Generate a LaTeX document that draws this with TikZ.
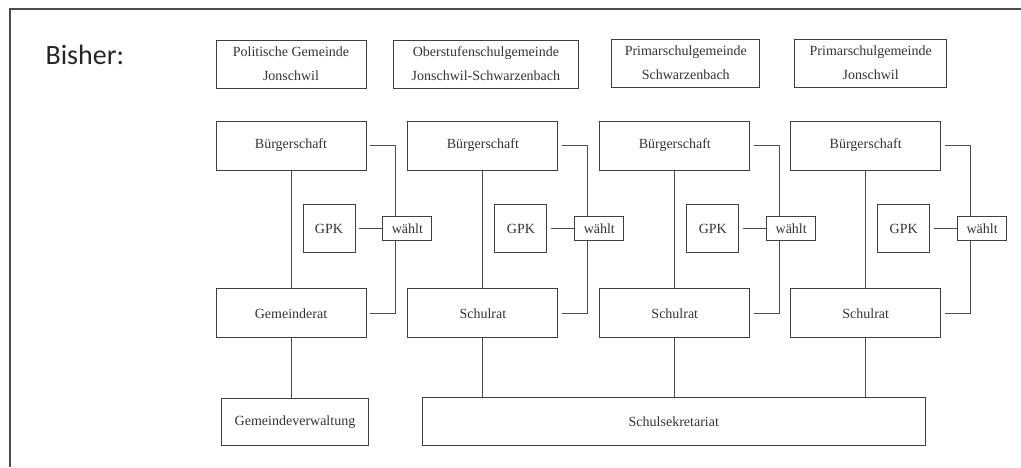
\documentclass[tikz,border=0pt]{standalone}
\usepackage{fontspec}
\setmainfont{Liberation Serif}
\newfontfamily\bisherfont{Carlito}
\usepackage{tikz}
\usetikzlibrary{positioning}
\tikzstyle{organ} = [rectangle, minimum width=150pt, minimum height=49pt, inner sep=0pt, text centered, align=center, draw=black!75, line width=0.9pt, text=black!80, font=\fontsize{14}{24}\selectfont]
\tikzstyle{gemeinde} = [organ, minimum height=48pt]
\tikzstyle{gpk} = [organ, minimum width=52pt, minimum height=48pt]
\tikzstyle{waehlt} = [organ, minimum width=49pt, minimum height=24pt]
\tikzstyle{line} = [draw=black!70, line width=0.9pt]
\tikzstyle{frame} = [draw=black!70, line width=1.3pt]

\begin{document}
\begin{tikzpicture}[x=1pt, y=-1pt]
  \useasboundingbox (0,0) rectangle (1021,467);
  \draw [frame] (10,467) -- (10,9) -- (1021,9);
  \node (bisher) [anchor=west, text=black!85, font=\bisherfont\fontsize{28}{30}\selectfont] at (42,55) {Bisher:};
  \node (buerger1) [organ] at (291,145.5) {Bürgerschaft};
  \node (buerger2) [organ, right=41pt of buerger1] {Bürgerschaft};
  \node (buerger3) [organ, right=41pt of buerger2] {Bürgerschaft};
  \node (buerger4) [organ, right=40pt of buerger3] {Bürgerschaft};
  \node (polgem) [gemeinde, above=32pt of buerger1] {Politische Gemeinde\\Jonschwil};
  \node (oberst) [gemeinde, minimum width=185pt, above=32pt of buerger2, xshift=3pt] {Oberstufenschulgemeinde\\Jonschwil-Schwarzenbach};
  \node (primschw) [gemeinde, minimum width=148pt, above=33pt of buerger3, xshift=11pt] {Primarschulgemeinde\\Schwarzenbach};
  \node (primjon) [gemeinde, minimum width=152pt, above=33pt of buerger4, xshift=5pt] {Primarschulgemeinde\\Jonschwil};
  \node (gemrat) [organ, below=118pt of buerger1] {Gemeinderat};
  \node (schulrat1) [organ, below=118pt of buerger2] {Schulrat};
  \node (schulrat2) [organ, below=118pt of buerger3] {Schulrat};
  \node (schulrat3) [organ, below=118pt of buerger4] {Schulrat};
  \node (gpk1) [gpk, below=34pt of buerger1, xshift=38pt] {GPK};
  \node (gpk2) [gpk, below=34pt of buerger2, xshift=38pt] {GPK};
  \node (gpk3) [gpk, below=34pt of buerger3, xshift=38pt] {GPK};
  \node (gpk4) [gpk, below=34pt of buerger4, xshift=38pt] {GPK};
  \node (waehlt1) [waehlt, right=27pt of gpk1] {wählt};
  \node (waehlt2) [waehlt, right=27pt of gpk2] {wählt};
  \node (waehlt3) [waehlt, right=27pt of gpk3] {wählt};
  \node (waehlt4) [waehlt, right=27pt of gpk4] {wählt};
  \node (gemverw) [organ, minimum width=147pt, minimum height=47pt, below=60pt of gemrat, xshift=4pt] {Gemeindeverwaltung};
  \node (schulsek) [organ, minimum width=503pt, minimum height=48pt, below=59pt of schulrat2, xshift=-1pt] {Schulsekretariat};
  \draw [line] (buerger1) -- (gemrat);
  \draw [line] (buerger2) -- (schulrat1);
  \draw [line] (buerger3) -- (schulrat2);
  \draw [line] (buerger4) -- (schulrat3);
  \draw [line] ([xshift=4pt]buerger1.east) -| ([xshift=-12pt]waehlt1.north);
  \draw [line] ([xshift=4pt]gemrat.east) -| ([xshift=-12pt]waehlt1.south);
  \draw [line] ([xshift=4pt]gpk1.east) -- (waehlt1.west);
  \draw [line] ([xshift=4pt]buerger2.east) -| ([xshift=-12pt]waehlt2.north);
  \draw [line] ([xshift=4pt]schulrat1.east) -| ([xshift=-12pt]waehlt2.south);
  \draw [line] ([xshift=4pt]gpk2.east) -- (waehlt2.west);
  \draw [line] ([xshift=4pt]buerger3.east) -| ([xshift=-12pt]waehlt3.north);
  \draw [line] ([xshift=4pt]schulrat2.east) -| ([xshift=-12pt]waehlt3.south);
  \draw [line] ([xshift=4pt]gpk3.east) -- (waehlt3.west);
  \draw [line] ([xshift=4pt]buerger4.east) -| ([xshift=-12pt]waehlt4.north);
  \draw [line] ([xshift=4pt]schulrat3.east) -| ([xshift=-12pt]waehlt4.south);
  \draw [line] ([xshift=4pt]gpk4.east) -- (waehlt4.west);
  \draw [line] (gemrat) -- (gemrat |- gemverw.north);
  \draw [line] (schulrat1) -- (schulrat1 |- schulsek.north);
  \draw [line] (schulrat2) -- (schulrat2 |- schulsek.north);
  \draw [line] (schulrat3) -- (schulrat3 |- schulsek.north);
\end{tikzpicture}
\end{document}
